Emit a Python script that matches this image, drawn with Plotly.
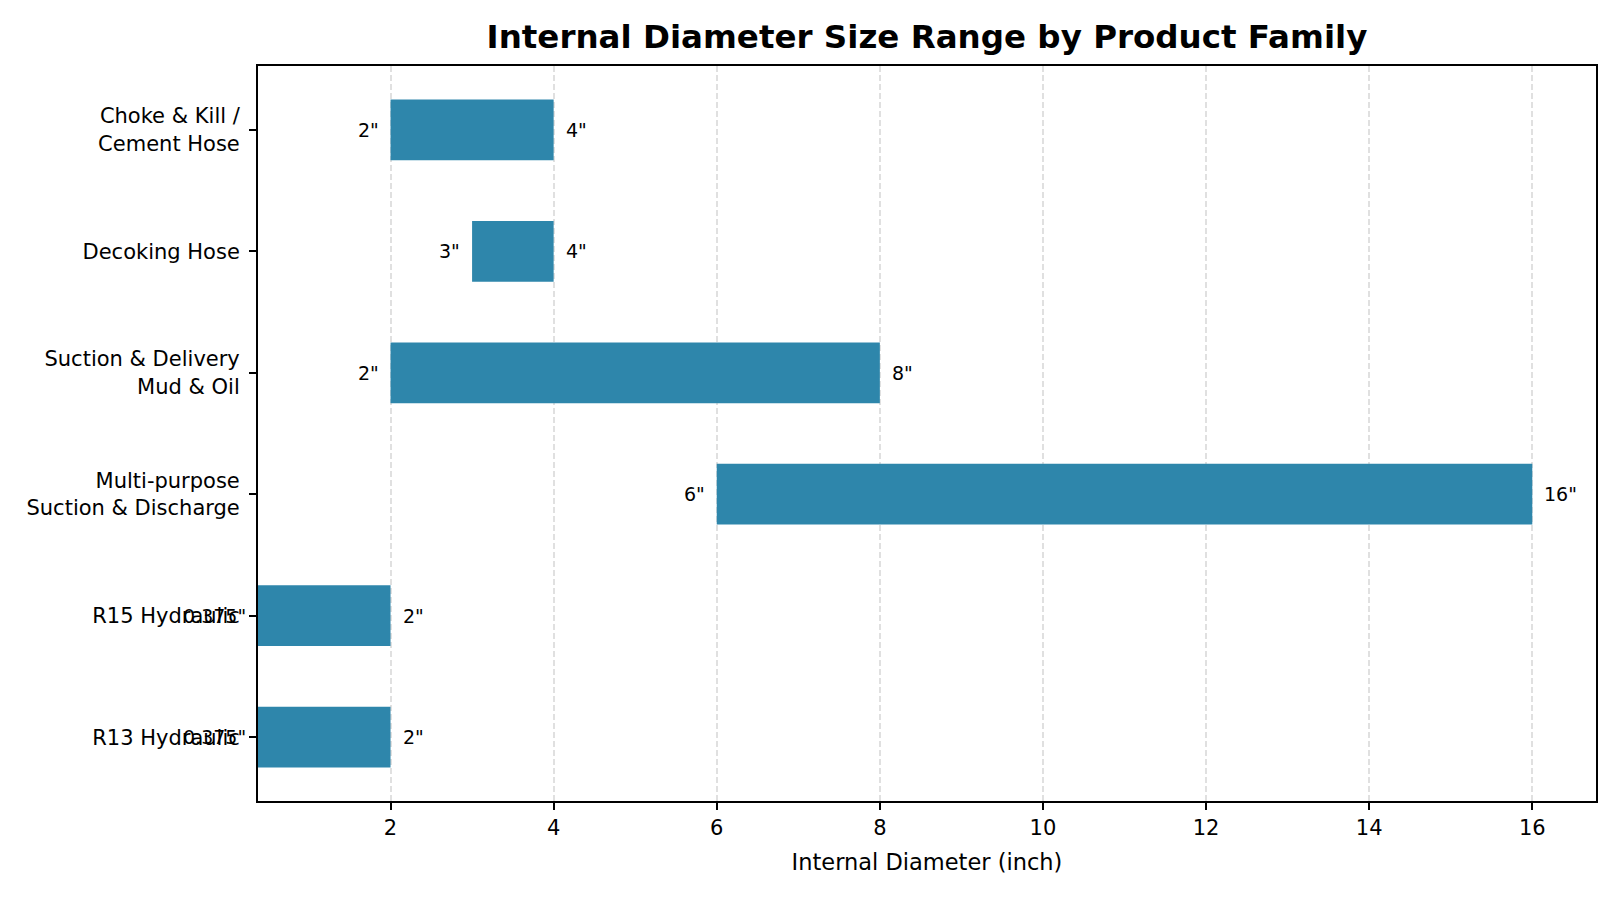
import plotly.graph_objects as go

# bottom to top, as drawn
families = [
    "R13 Hydraulic",
    "R15 Hydraulic",
    "Multi-purpose<br>Suction & Discharge",
    "Suction & Delivery<br>Mud & Oil",
    "Decoking Hose",
    "Choke & Kill /<br>Cement Hose",
]
min_id = [0.375, 0.375, 6, 2, 3, 2]
max_id = [2, 2, 16, 8, 4, 4]
x_ticks = [2, 4, 6, 8, 10, 12, 14, 16]

_BAR_COLOR = "#2E86AB"
_FONT = "DejaVu Sans"


def fmt(v):
    return f'{v:g}"'


fig = go.Figure()

fig.add_trace(go.Bar(
    y=families,
    x=[hi - lo for lo, hi in zip(min_id, max_id)],
    base=min_id,
    orientation="h",
    width=0.5,
    marker={"color": _BAR_COLOR, "line": {"width": 0}},
    hoverinfo="skip",
    showlegend=False,
))

for fam, lo, hi in zip(families, min_id, max_id):
    fig.add_annotation(x=lo, y=fam, text=fmt(lo), showarrow=False,
                       xanchor="right", xshift=-10,
                       font={"size": 19, "color": "black", "family": _FONT})
    fig.add_annotation(x=hi, y=fam, text=fmt(hi), showarrow=False,
                       xanchor="left", xshift=10,
                       font={"size": 19, "color": "black", "family": _FONT})

lo_all = min(min_id)
hi_all = max(max_id)
pad = 0.05 * (hi_all - lo_all)

# page body adds 8px around the figure
fig.update_layout(
    width=1612,
    height=892,
    title={
        "text": "<b>Internal Diameter Size Range by Product Family</b>",
        "x": 0.5, "xref": "paper", "xanchor": "center",
        "y": 1 - 29 / 892, "yref": "container", "yanchor": "middle",
        "font": {"size": 32.5, "color": "black", "family": _FONT},
    },
    margin={"l": 250, "r": 24, "t": 58, "b": 99},
    font={"family": _FONT, "size": 21, "color": "black"},
    plot_bgcolor="white",
    paper_bgcolor="white",
)
fig.update_xaxes(
    range=[lo_all, hi_all + pad],
    tickvals=x_ticks,
    ticks="outside", ticklen=7, tickwidth=1.7, tickcolor="black",
    showline=True, linecolor="black", linewidth=2, mirror=True,
    showgrid=True, gridcolor="#e0e0e0", gridwidth=1.5, griddash="6px,3px",
    zeroline=False,
    title={"text": "Internal Diameter (inch)", "font": {"size": 22.5}, "standoff": 15},
    tickfont={"size": 21},
)
fig.update_yaxes(
    type="category",
    categoryorder="array", categoryarray=families,
    range=[-0.525, len(families) - 0.475],
    ticks="outside", ticklen=7, tickwidth=1.7, tickcolor="black",
    ticklabelstandoff=5,
    showline=True, linecolor="black", linewidth=2, mirror=True,
    showgrid=False, zeroline=False,
    tickfont={"size": 21},
)

fig.write_html("out.html")
